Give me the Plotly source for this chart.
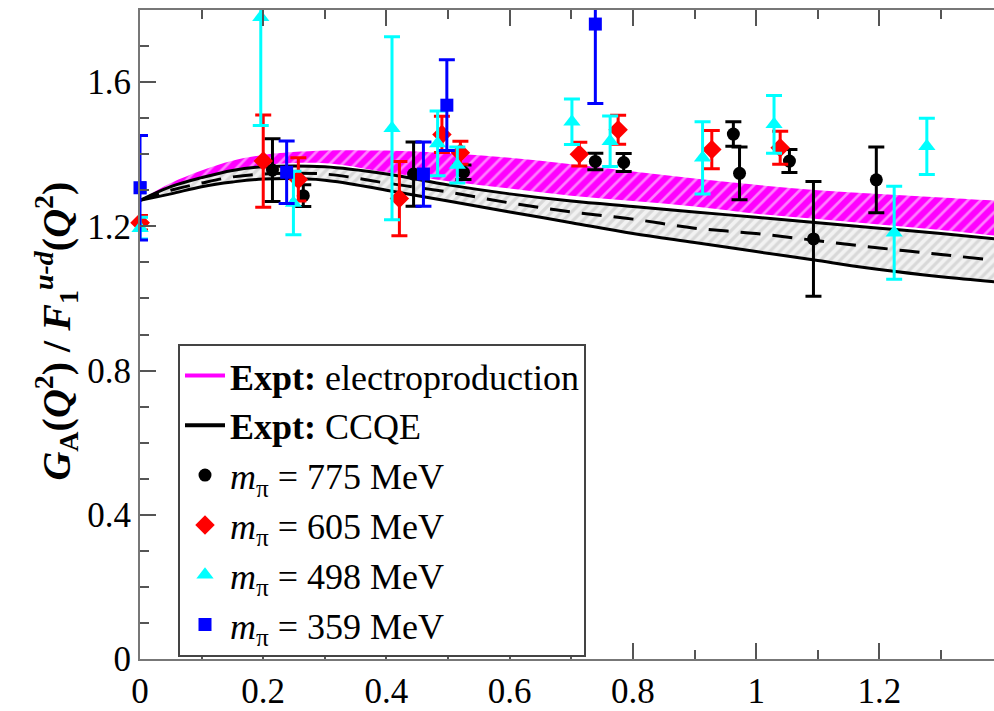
import plotly.graph_objects as go

# ---------------- data ----------------
# band nodes (Q^2 in GeV^2)
band_q2 = [0, 0.05, 0.1, 0.15, 0.2, 0.3, 0.4, 0.5, 0.6, 0.7, 0.8, 0.9, 1.0, 1.1, 1.2, 1.3, 1.4]
electro_upper = [1.272, 1.32, 1.355, 1.382, 1.398, 1.41, 1.41, 1.403, 1.39, 1.372, 1.352, 1.333, 1.315, 1.30, 1.29, 1.28, 1.27]
electro_lower = [1.272, 1.305, 1.335, 1.355, 1.37, 1.375, 1.35, 1.325, 1.305, 1.285, 1.27, 1.255, 1.235, 1.22, 1.205, 1.19, 1.172]
ccqe_upper = [1.272, 1.31, 1.335, 1.355, 1.365, 1.365, 1.345, 1.315, 1.29, 1.27, 1.255, 1.24, 1.225, 1.21, 1.195, 1.18, 1.163]
ccqe_central = [1.272, 1.30, 1.32, 1.337, 1.345, 1.345, 1.32, 1.295, 1.265, 1.24, 1.22, 1.195, 1.18, 1.16, 1.14, 1.122, 1.103]
ccqe_lower = [1.272, 1.29, 1.31, 1.323, 1.331, 1.328, 1.30, 1.27, 1.24, 1.21, 1.18, 1.155, 1.13, 1.105, 1.08, 1.06, 1.044]

# lattice data
q2_775 = [0.215, 0.265, 0.444, 0.525, 0.739, 0.785, 0.963, 0.973, 1.054, 1.093, 1.195]
val_775 = [1.356, 1.285, 1.345, 1.35, 1.380, 1.377, 1.456, 1.347, 1.381, 1.165, 1.329]
err_775 = [0.087, 0.03, 0.089, 0.02, 0.023, 0.025, 0.034, 0.073, 0.032, 0.159, 0.091]

q2_605 = [0.0, 0.200, 0.257, 0.421, 0.49, 0.52, 0.713, 0.776, 0.928, 1.039]
val_605 = [1.21, 1.381, 1.33, 1.277, 1.455, 1.404, 1.400, 1.468, 1.413, 1.418]
err_605 = [0.02, 0.128, 0.06, 0.103, 0.05, 0.032, 0.033, 0.04, 0.053, 0.046]

q2_498 = [0.0, 0.196, 0.249, 0.409, 0.483, 0.515, 0.701, 0.763, 0.913, 1.029, 1.224, 1.277]
val_498 = [1.195, 1.78, 1.265, 1.472, 1.43, 1.37, 1.490, 1.436, 1.390, 1.483, 1.182, 1.422]
err_498 = [0.03, 0.30, 0.088, 0.254, 0.09, 0.05, 0.063, 0.07, 0.10, 0.08, 0.129, 0.078]

q2_359 = [0.0, 0.238, 0.46, 0.498, 0.739]
val_359 = [1.307, 1.350, 1.345, 1.536, 1.761]
err_359 = [0.145, 0.087, 0.089, 0.126, 0.22]

x_ticks = [0, 0.2, 0.4, 0.6, 0.8, 1.0, 1.2]
x_tick_labels = ["0", "0.2", "0.4", "0.6", "0.8", "1", "1.2"]
y_ticks = [0, 0.4, 0.8, 1.2, 1.6]
y_tick_labels = ["0", "0.4", "0.8", "1.2", "1.6"]

SERIF = "Liberation Serif"

fig = go.Figure()

# electroproduction band
fig.add_trace(go.Scatter(x=band_q2, y=electro_lower, mode="lines",
                         line=dict(color="magenta", width=0, shape="spline"),
                         showlegend=False, hoverinfo="skip"))
fig.add_trace(go.Scatter(x=band_q2, y=electro_upper, mode="lines",
                         line=dict(color="magenta", width=0, shape="spline"),
                         fill="tonexty", fillcolor="magenta",
                         fillpattern=dict(shape="/", bgcolor="magenta", fgcolor="white",
                                          size=9, solidity=0.3),
                         showlegend=False, hoverinfo="skip"))
# CCQE band
fig.add_trace(go.Scatter(x=band_q2, y=ccqe_lower, mode="lines",
                         line=dict(color="black", width=3, shape="spline"),
                         showlegend=False, hoverinfo="skip"))
fig.add_trace(go.Scatter(x=band_q2, y=ccqe_upper, mode="lines",
                         line=dict(color="black", width=3, shape="spline"),
                         fill="tonexty", fillcolor="#d0d0d0",
                         fillpattern=dict(shape="/", bgcolor="#f2f2f2", fgcolor="#bdbdbd",
                                          size=7, solidity=0.45),
                         showlegend=False, hoverinfo="skip"))
fig.add_trace(go.Scatter(x=band_q2, y=ccqe_central, mode="lines",
                         line=dict(color="black", width=3, dash="20px,12px", shape="spline"),
                         showlegend=False, hoverinfo="skip"))

# legend-only line entries
fig.add_trace(go.Scatter(x=[None], y=[None], mode="lines",
                         line=dict(color="magenta", width=4),
                         name="<b>Expt:</b> electroproduction", legendrank=1))
fig.add_trace(go.Scatter(x=[None], y=[None], mode="lines",
                         line=dict(color="black", width=4),
                         name="<b>Expt:</b> CCQE", legendrank=2))

def lattice(x, y, e, color, symbol, size, name, rank):
    fig.add_trace(go.Scatter(
        x=x, y=y, mode="markers", name=name, legendrank=rank,
        marker=dict(color=color, symbol=symbol, size=size, line=dict(width=0)),
        error_y=dict(type="data", array=e, color=color, thickness=3, width=8),
    ))
    # markers sitting on the Q^2 = 0 axis are drawn unclipped (as in the original)
    x0 = [xi for xi in x if xi == 0]
    y0 = [yi for xi, yi in zip(x, y) if xi == 0]
    if x0:
        fig.add_trace(go.Scatter(
            x=x0, y=y0, mode="markers", showlegend=False, hoverinfo="skip",
            cliponaxis=False,
            marker=dict(color=color, symbol=symbol, size=size, line=dict(width=0)),
        ))

lattice(q2_775, val_775, err_775, "black", "circle", 13, "<i>m</i><sub>π</sub> = 775 MeV", 3)
lattice(q2_605, val_605, err_605, "red", "diamond", 15, "<i>m</i><sub>π</sub> = 605 MeV", 4)
lattice(q2_498, val_498, err_498, "cyan", "triangle-up", 15, "<i>m</i><sub>π</sub> = 498 MeV", 5)
lattice(q2_359, val_359, err_359, "blue", "square", 13, "<i>m</i><sub>π</sub> = 359 MeV", 6)

axis_common = dict(
    showgrid=False, zeroline=False, showline=True, linecolor="#777", linewidth=2,
    ticks="inside", ticklen=16, tickwidth=2, tickcolor="#555",
    tickfont=dict(family=SERIF, size=35, color="black"),
)

fig.update_xaxes(range=[0, 1.386], tickvals=x_ticks, ticktext=x_tick_labels,
                 mirror="ticks",
                 minor=dict(dtick=0.1, tick0=0, ticks="inside", ticklen=9, tickwidth=2, tickcolor="#555"),
                 **axis_common)
fig.update_yaxes(range=[0, 1.8], tickvals=y_ticks, ticktext=y_tick_labels,
                 minor=dict(dtick=0.1, tick0=0, ticks="inside", ticklen=9, tickwidth=2, tickcolor="#555"),
                 **axis_common)

fig.add_annotation(
    text="<b><i>G</i><sub>A</sub>(<i>Q</i><sup>2</sup>) / <i>F</i><sub>1</sub><sup><i>u-d</i></sup>(<i>Q</i><sup>2</sup>)</b>",
    textangle=-90, xref="paper", yref="paper", x=-0.098, y=0.505,
    xanchor="center", yanchor="middle", showarrow=False,
    font=dict(family=SERIF, size=40, color="black"),
)

fig.update_layout(
    width=994, height=711,
    margin=dict(l=140, r=0, t=10, b=40),
    paper_bgcolor="white", plot_bgcolor="white",
    legend=dict(x=0.0445, y=0.486, xanchor="left", yanchor="top",
                traceorder="normal",
                bgcolor="white", bordercolor="#444", borderwidth=2,
                font=dict(family=SERIF, size=36, color="black"),
                itemwidth=40, tracegroupgap=0),
)

fig.write_html("out.html")
